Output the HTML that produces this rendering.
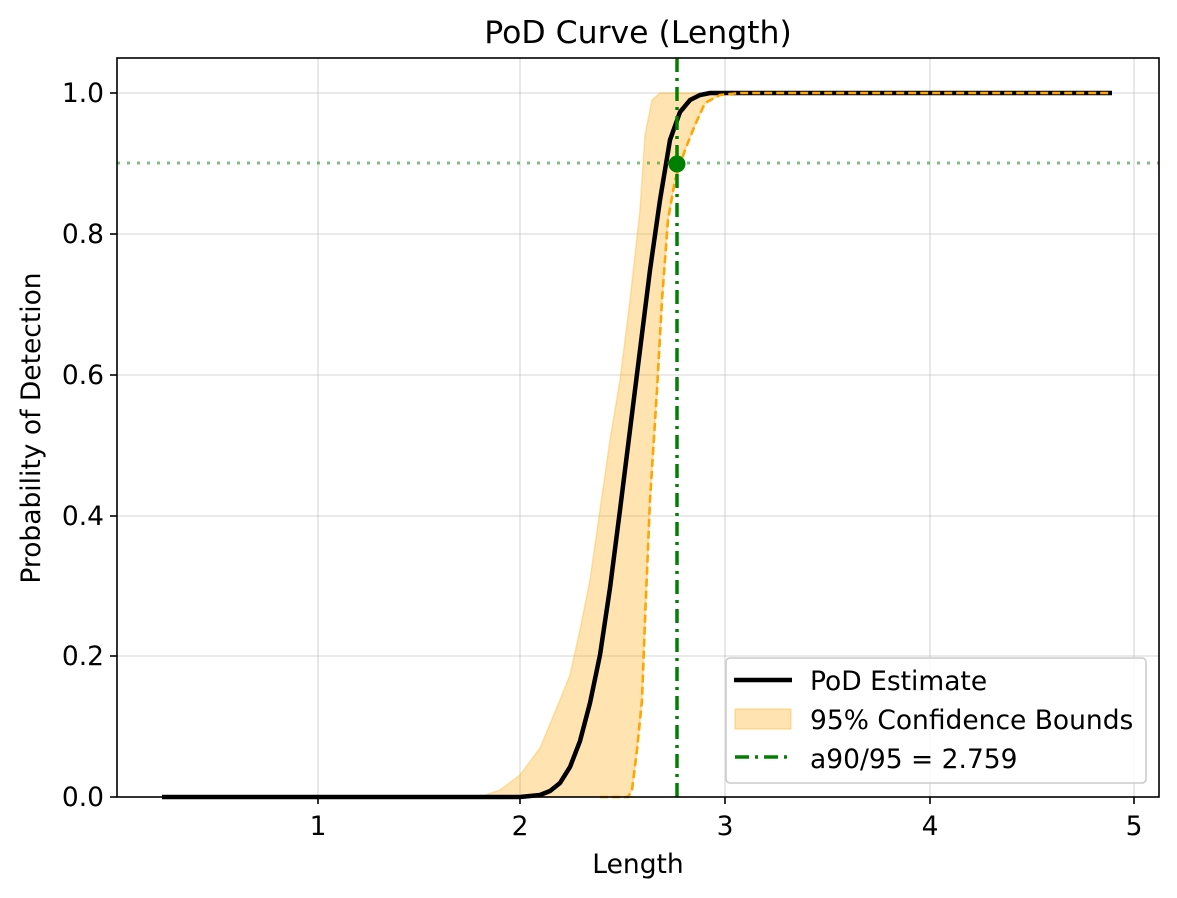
<!DOCTYPE html>
<html><head><meta charset="utf-8"><style>body{margin:0;background:#fff}svg{display:block}text{font-family:"DejaVu Sans","Liberation Sans",sans-serif;fill:#000}</style></head><body>
<svg width="1177" height="898" viewBox="0 0 1177 898" xmlns="http://www.w3.org/2000/svg">
<rect width="1177" height="898" fill="#fff"/>
<g stroke="#b0b0b0" stroke-opacity="0.35" stroke-width="1.6">
<line x1="318" y1="58" x2="318" y2="797"/><line x1="520" y1="58" x2="520" y2="797"/><line x1="725" y1="58" x2="725" y2="797"/><line x1="930" y1="58" x2="930" y2="797"/><line x1="1134" y1="58" x2="1134" y2="797"/>
<line x1="117" y1="656" x2="1159" y2="656"/><line x1="117" y1="516" x2="1159" y2="516"/><line x1="117" y1="375" x2="1159" y2="375"/><line x1="117" y1="234" x2="1159" y2="234"/><line x1="117" y1="93" x2="1159" y2="93"/>
</g>
<polygon fill="#ffa500" fill-opacity="0.3" stroke="#ffa500" stroke-opacity="0.3" stroke-width="1.5" points="162,797 480,797 500,790 520,775 540,748 560,700 570,675 580,630 590,580 600,510 610,440 620,380 630,300 640,210 645,135 652,100 660,93 1112,93 740,93 720,95 705,103 695,125 685,150 675,180 668,220 662,300 657,390 650,500 645,620 642,700 637,750 632,790 628,797"/>
<polyline fill="none" stroke="#000" stroke-width="4.5" points="162,797 520,797 540,795 550,791 560,783 570,767 580,741 590,703 600,655 610,588 620,510 630,430 640,350 650,270 660,200 670,140 680,112 690,100 700,95 710,93 1112,93"/>
<polyline fill="none" stroke="#ffa500" stroke-width="2.6" stroke-dasharray="8,4" points="600,797 628,797 632,790 637,750 642,700 645,620 650,500 657,390 662,300 668,220 675,180 685,150 695,125 705,103 720,95 740,93 1112,93"/>
<line x1="117" y1="163" x2="1159" y2="163" stroke="#008000" stroke-opacity="0.5" stroke-width="3" stroke-dasharray="3,7"/>
<line x1="677" y1="58" x2="677" y2="797" stroke="#008000" stroke-width="3.5" stroke-dasharray="14,6,3,6"/>
<circle cx="677" cy="164" r="8.5" fill="#008000"/>
<rect x="117" y="58" width="1042" height="739" fill="none" stroke="#000" stroke-width="1.6"/>
<g stroke="#000" stroke-width="1.6">
<line x1="318" y1="797" x2="318" y2="804"/><line x1="520" y1="797" x2="520" y2="804"/><line x1="725" y1="797" x2="725" y2="804"/><line x1="930" y1="797" x2="930" y2="804"/><line x1="1134" y1="797" x2="1134" y2="804"/>
<line x1="110" y1="797" x2="117" y2="797"/><line x1="110" y1="656" x2="117" y2="656"/><line x1="110" y1="516" x2="117" y2="516"/><line x1="110" y1="375" x2="117" y2="375"/><line x1="110" y1="234" x2="117" y2="234"/><line x1="110" y1="93" x2="117" y2="93"/>
</g>
<g font-size="26.5" text-anchor="middle">
<text x="318" y="835">1</text><text x="520" y="835">2</text><text x="725" y="835">3</text><text x="930" y="835">4</text><text x="1134" y="835">5</text>
</g>
<g font-size="26.5" text-anchor="end">
<text x="104" y="806">0.0</text><text x="104" y="665">0.2</text><text x="104" y="525">0.4</text><text x="104" y="384">0.6</text><text x="104" y="243">0.8</text><text x="104" y="102">1.0</text>
</g>
<text x="638" y="873" font-size="26.5" text-anchor="middle">Length</text>
<text transform="translate(40,428) rotate(-90)" font-size="26.5" text-anchor="middle">Probability of Detection</text>
<text x="638" y="43" font-size="31.5" text-anchor="middle">PoD Curve (Length)</text>
<rect x="726" y="658" width="420" height="125" rx="4" fill="#fff" fill-opacity="0.8" stroke="#ccc" stroke-width="1.6"/>
<line x1="734" y1="680" x2="792" y2="680" stroke="#000" stroke-width="4.5"/>
<rect x="735" y="709" width="56" height="20" fill="#ffa500" fill-opacity="0.3" stroke="#ffa500" stroke-opacity="0.3" stroke-width="1.5"/>
<line x1="735" y1="757" x2="792" y2="757" stroke="#008000" stroke-width="3.5" stroke-dasharray="14,6,3,6"/>
<g font-size="26.5"><text x="810" y="690">PoD Estimate</text><text x="810" y="729">95% Confidence Bounds</text><text x="810" y="768">a90/95 = 2.759</text></g>
</svg>
</body></html>
